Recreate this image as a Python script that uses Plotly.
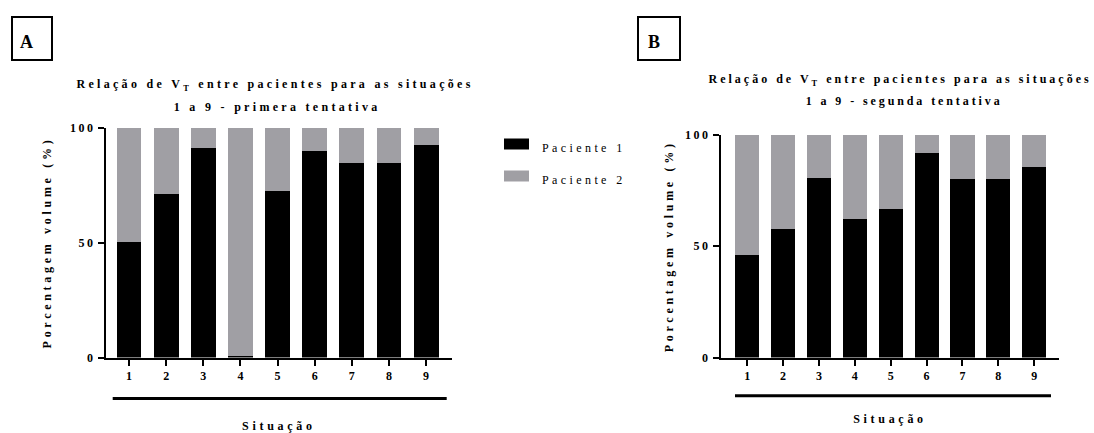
import plotly.graph_objects as go

W, H = 1094, 433

situacoes = ["1", "2", "3", "4", "5", "6", "7", "8", "9"]
paciente1_a = [50.4, 70.9, 90.9, 0.8, 72.3, 90.0, 84.5, 84.5, 92.3]
paciente2_a = [round(100 - v, 1) for v in paciente1_a]
paciente1_b = [46.1, 57.9, 80.8, 62.3, 66.8, 91.9, 80.2, 80.2, 85.6]
paciente2_b = [round(100 - v, 1) for v in paciente1_b]
y_ticks = [0, 50, 100]
series_names = ["Paciente 1", "Paciente 2"]

BLACK = "#000000"
GRAY = "#a09fa4"
FONT = "Liberation Serif"


def px(x):
    return x / W


def py(y):
    return 1 - y / H


fig = go.Figure()

fig.add_trace(go.Bar(x=situacoes, y=paciente1_a, name=series_names[0], marker_color=BLACK,
                     legendgroup="p1", xaxis="x", yaxis="y"))
fig.add_trace(go.Bar(x=situacoes, y=paciente2_a, name=series_names[1], marker_color=GRAY,
                     legendgroup="p2", xaxis="x", yaxis="y"))
fig.add_trace(go.Bar(x=situacoes, y=paciente1_b, name=series_names[0], marker_color=BLACK,
                     legendgroup="p1", showlegend=False, xaxis="x2", yaxis="y2"))
fig.add_trace(go.Bar(x=situacoes, y=paciente2_b, name=series_names[1], marker_color=GRAY,
                     legendgroup="p2", showlegend=False, xaxis="x2", yaxis="y2"))

tickfont = dict(family=FONT, size=12, color="black", weight="bold")
titlefont = dict(family=FONT, size=12, color="black", weight="bold")

xcommon = dict(type="category", showline=True, linewidth=2, linecolor="black",
               ticks="outside", ticklen=6, tickwidth=2, tickcolor="black", automargin=False,
               showgrid=False, zeroline=False, tickfont=tickfont, fixedrange=True)
ycommon = dict(range=[0, 100], tickvals=y_ticks, showline=True, linewidth=2, linecolor="black",
               ticks="outside", ticklen=6, tickwidth=2, tickcolor="black", automargin=False,
               showgrid=False, zeroline=False, tickfont=tickfont, fixedrange=True)

fig.update_layout(
    template="none",
    width=W, height=H, autosize=False,
    margin=dict(l=0, r=0, t=0, b=0, pad=0),
    paper_bgcolor="white", plot_bgcolor="white",
    barmode="stack", bargap=0.33,
    font=dict(family=FONT, color="black"),
    xaxis=dict(xcommon, domain=[px(106), px(451.7)], range=[-0.62, 8.69], anchor="y",
               title=dict(text="Situação", font=titlefont, standoff=41)),
    yaxis=dict(ycommon, domain=[py(357.5), py(127.5)], anchor="x",
               title=dict(text="Porcentagem volume (%)", font=titlefont, standoff=23)),
    xaxis2=dict(xcommon, domain=[px(721), px(1059)], range=[-0.73, 8.69], anchor="y2",
                title=dict(text="Situação", font=titlefont, standoff=33)),
    yaxis2=dict(ycommon, domain=[py(357.5), py(135)], anchor="x2",
                title=dict(text="Porcentagem volume (%)", font=titlefont, standoff=16)),
    legend=dict(x=px(502), y=py(132.5), xanchor="left", yanchor="top",
                traceorder="grouped", tracegroupgap=13,
                font=dict(family=FONT, size=12, color="black"),
                bgcolor="rgba(0,0,0,0)", borderwidth=0),
    showlegend=True,
)

annots = [
    dict(text="Relação de V<sub>T</sub> entre pacientes para as situações", x=px(275), y=py(85)),
    dict(text="1 a 9 - primera tentativa", x=px(277), y=py(107)),
    dict(text="Relação de V<sub>T</sub> entre pacientes para as situações", x=px(900), y=py(80)),
    dict(text="1 a 9 - segunda tentativa", x=px(904), y=py(100.5)),
]
for a in annots:
    fig.add_annotation(xref="paper", yref="paper", xanchor="center", yanchor="middle",
                       showarrow=False, font=dict(family=FONT, size=12, color="black", weight="bold"), **a)

for letter, cx in (("A", 26.5), ("B", 653.5)):
    fig.add_annotation(text=letter, xref="paper", yref="paper", x=px(cx), y=py(41.5),
                       xanchor="center", yanchor="middle", showarrow=False,
                       font=dict(family=FONT, size=18, color="black", weight="bold"))

# boxes around panel letters
fig.add_shape(type="rect", xref="paper", yref="paper", x0=px(12), x1=px(52), y0=py(60), y1=py(17),
              line=dict(color="black", width=2))
fig.add_shape(type="rect", xref="paper", yref="paper", x0=px(638), x1=px(680), y0=py(60), y1=py(17),
              line=dict(color="black", width=2))
# underline bars below the categories
fig.add_shape(type="line", xref="paper", yref="paper", x0=px(112.7), x1=px(446.7), y0=py(398.5), y1=py(398.5),
              line=dict(color="black", width=3))
fig.add_shape(type="line", xref="paper", yref="paper", x0=px(735), x1=px(1051), y0=py(395.7), y1=py(395.7),
              line=dict(color="black", width=3))

post = """
document.documentElement.style.margin = '0';
document.body.style.margin = '0';
document.body.style.overflow = 'hidden';
var gd = document.getElementById('{plot_id}');
function sp(sel, v){ gd.querySelectorAll(sel).forEach(function(t){ t.style.letterSpacing = v; }); }
var spacing = {'0': '3.3px', '1': '3.3px', '2': '3.0px', '3': '2.9px'};
gd.querySelectorAll('.annotation').forEach(function(g){
  var i = g.getAttribute('data-index');
  if (spacing[i]) { g.querySelectorAll('.annotation-text').forEach(function(t){ t.style.letterSpacing = spacing[i]; }); }
});
sp('.ytitle, .y2title', '3.7px');
sp('.xtitle, .x2title', '3.7px');
sp('.legendtext', '3.4px');
sp('.ytick text, .y2tick text', '2.5px');
gd.querySelectorAll('.legend [clip-path]').forEach(function(e){ e.removeAttribute('clip-path'); });
gd.querySelectorAll('.legendpoints path').forEach(function(p){ p.setAttribute('d', 'M7,2.5H-18V-8.5H7Z'); });
"""

fig.write_html("out.html", post_script=post, config={"displayModeBar": False, "staticPlot": True})
